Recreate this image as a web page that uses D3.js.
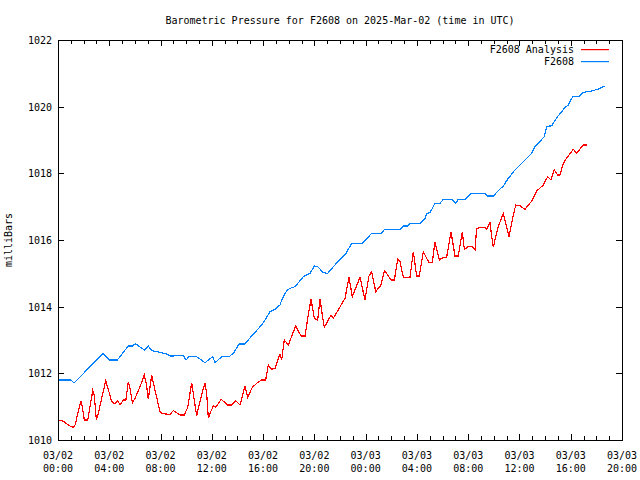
<!DOCTYPE html>
<html>
<head>
<meta charset="utf-8">
<script src="https://cdn.jsdelivr.net/npm/d3@7"></script>
<style>
  html, body { margin: 0; padding: 0; background: #fff; }
  svg { display: block; }
  text { font-family: "DejaVu Sans Mono", "Liberation Mono", monospace; font-size: 10px; fill: #000; }
</style>
</head>
<body>
<svg id="chart" width="640" height="480"></svg>
<script>
// ---- data (hours since 2025-03-02 00:00 UTC, pressure in mbar) ----
const analysisHours = [0,0.34,1.01,1.19,1.33,1.79,1.90,2.05,2.32,2.71,
  2.83,2.99,3.10,3.72,3.92,4.19,4.45,4.66,4.84,5.09,
  5.30,5.48,5.64,5.80,6.01,6.48,6.73,6.89,7.04,7.31,
  7.57,7.98,8.35,8.74,9.0,9.52,9.85,10.12,10.43,10.63,
  10.82,10.95,11.34,11.47,11.60,11.73,11.86,12.12,12.30,12.72,
  13.24,13.55,13.86,14.20,14.59,14.80,15.16,15.50,15.89,16.20,
  16.41,16.67,16.93,17.19,17.32,17.45,17.65,17.97,18.54,18.96,
  19.27,19.48,19.74,20.0,20.26,20.44,20.62,20.78,21.30,21.48,
  22.39,22.70,22.96,23.56,23.95,24.26,24.47,24.79,25.20,25.46,
  25.67,25.98,26.24,26.50,26.68,26.94,27.46,27.72,27.98,28.19,
  28.50,28.94,29.20,29.41,29.62,29.75,30.06,30.32,30.66,30.97,
  31.23,31.54,31.70,32.01,32.32,32.53,32.66,33.0,33.31,33.44,
  33.70,33.84,33.96,34.09,34.35,34.74,35.19,35.52,35.71,36.04,
  36.43,36.96,37.35,37.86,38.20,38.46,38.72,38.98,39.16,39.42,
  39.76,40.20,40.47,40.86,40.98,41.25];
const analysisValues = [1010.6,1010.58,1010.4,1010.38,1010.45,1011.17,1011.0,1010.6,1010.6,1011.48,
  1011.35,1010.6,1010.72,1011.78,1011.52,1011.15,1011.08,1011.18,1011.05,1011.2,
  1011.2,1011.75,1011.5,1011.12,1011.25,1011.68,1011.95,1011.7,1011.22,1011.95,
  1011.48,1010.82,1010.78,1010.77,1010.88,1010.75,1010.75,1010.98,1011.72,1011.2,
  1010.72,1010.95,1011.55,1011.7,1011.4,1010.65,1010.8,1011.02,1010.98,1011.22,
  1011.05,1011.05,1011.18,1011.05,1011.62,1011.28,1011.58,1011.7,1011.8,1011.8,
  1012.25,1012.12,1012.15,1012.45,1012.58,1012.4,1013.0,1012.85,1013.42,1013.12,
  1013.12,1013.65,1014.22,1013.65,1013.6,1014.22,1013.75,1013.38,1013.75,1013.65,
  1014.25,1014.88,1014.3,1014.88,1014.2,1014.92,1015.05,1014.45,1014.65,1015.08,
  1014.98,1014.8,1014.8,1015.42,1015.35,1014.88,1014.88,1015.65,1014.92,1014.92,
  1015.65,1015.32,1015.32,1015.95,1015.6,1015.4,1015.48,1015.48,1016.25,1015.52,
  1015.52,1016.25,1015.72,1015.8,1015.8,1015.7,1016.35,1016.38,1016.38,1016.32,
  1016.53,1016.1,1015.78,1016.0,1016.4,1016.8,1016.1,1016.75,1017.05,1017.03,
  1016.92,1017.17,1017.47,1017.65,1017.9,1017.8,1018.1,1017.95,1017.95,1018.3,
  1018.5,1018.72,1018.6,1018.8,1018.85,1018.85];

const stationHours = [0,1.01,1.25,3.53,3.98,4.63,5.48,5.80,6.03,6.73,
  7.04,7.31,7.82,8.48,8.74,9.78,9.99,10.22,10.82,11.47,
  12.07,12.25,12.77,13.34,13.68,14.12,14.59,15.06,15.89,16.15,
  16.54,16.93,17.32,17.45,17.84,18.10,18.49,19.14,19.66,20.0,
  20.26,20.70,21.04,21.48,22.47,22.91,23.74,24.47,25.25,25.46,
  25.90,26.68,26.94,27.28,27.46,28.24,28.63,28.76,29.02,29.41,
  29.80,30.06,30.71,31.03,31.23,31.75,32.22,33.31,33.52,33.96,
  34.48,34.74,35.13,35.65,36.04,36.43,36.96,37.21,37.94,38.13,
  38.52,38.91,39.30,39.55,39.81,40.15,40.72,40.98,41.64,42.15,
  42.67];
const stationValues = [1011.8,1011.8,1011.71,1012.6,1012.4,1012.4,1012.82,1012.82,1012.89,1012.7,
  1012.82,1012.68,1012.64,1012.58,1012.52,1012.53,1012.4,1012.5,1012.5,1012.32,
  1012.5,1012.32,1012.5,1012.5,1012.6,1012.88,1012.88,1013.1,1013.45,1013.6,
  1013.85,1013.92,1014.05,1014.2,1014.48,1014.55,1014.6,1014.9,1015.0,1015.22,
  1015.2,1015.02,1015.0,1015.2,1015.6,1015.9,1015.9,1016.2,1016.2,1016.32,
  1016.32,1016.32,1016.42,1016.42,1016.5,1016.5,1016.65,1016.8,1016.82,1017.1,
  1017.1,1017.22,1017.22,1017.1,1017.22,1017.22,1017.4,1017.4,1017.32,1017.32,
  1017.53,1017.62,1017.85,1018.1,1018.25,1018.4,1018.6,1018.8,1019.1,1019.4,
  1019.43,1019.67,1019.85,1019.98,1020.05,1020.3,1020.32,1020.43,1020.47,1020.53,
  1020.62];

const yTicks = [1010, 1012, 1014, 1016, 1018, 1020, 1022];
const seriesNames = ["F2608 Analysis", "F2608"];
const seriesColors = ["#ff0000", "#0080ff"];
const titleText = "Barometric Pressure for F2608 on 2025-Mar-02 (time in UTC)";
const yLabel = "milliBars";

// ---- layout ----
const L = 58, R = 622, T = 40, B = 440;
const t0 = Date.UTC(2025, 2, 2, 0);
const t1 = Date.UTC(2025, 2, 3, 20);
const toDate = h => new Date(t0 + h * 3600000);

const svg = d3.select("#chart");
const x = d3.scaleUtc().domain([new Date(t0), new Date(t1)]).range([L, R]);
const y = d3.scaleLinear().domain([1010, 1022]).range([B, T]);

// title
svg.append("text").attr("x", 340).attr("y", 24).attr("text-anchor", "middle").text(titleText);

// y label
svg.append("text").attr("transform", "translate(12,240) rotate(-90)")
  .attr("text-anchor", "middle").text(yLabel);

// ticks
const minorTicks = d3.utcHour.range(new Date(t0), new Date(t1 + 1));
const g = svg.append("g").attr("shape-rendering", "crispEdges");
minorTicks.forEach(d => {
  const xx = Math.round(x(d)) + 0.5;
  const major = d.getUTCHours() % 4 === 0;
  const len = major ? 6 : 4;
  g.append("line").attr("x1", xx).attr("x2", xx).attr("y1", B).attr("y2", B - len).attr("stroke", "#000");
  g.append("line").attr("x1", xx).attr("x2", xx).attr("y1", T).attr("y2", T + len).attr("stroke", "#000");
});
yTicks.forEach(v => {
  const yy = Math.round(y(v)) + 0.5;
  g.append("line").attr("x1", L).attr("x2", L + 6).attr("y1", yy).attr("y2", yy).attr("stroke", "#000");
  g.append("line").attr("x1", R - 6).attr("x2", R).attr("y1", yy).attr("y2", yy).attr("stroke", "#000");
  svg.append("text").attr("x", 52).attr("y", y(v) + 4).attr("text-anchor", "end").text(v);
});

// x labels
const fmtD = d3.utcFormat("%m/%d"), fmtT = d3.utcFormat("%H:%M");
d3.utcHour.every(4).range(new Date(t0), new Date(t1 + 1)).forEach(d => {
  const xx = x(d);
  svg.append("text").attr("x", xx).attr("y", 459).attr("text-anchor", "middle").text(fmtD(d));
  svg.append("text").attr("x", xx).attr("y", 472).attr("text-anchor", "middle").text(fmtT(d));
});

// lines
const line = d3.line().x(d => x(toDate(d[0]))).y(d => y(d[1]));
const aData = d3.zip(analysisHours, analysisValues);
const sData = d3.zip(stationHours, stationValues);
svg.append("path").datum(aData).attr("d", line).attr("fill", "none")
  .style("stroke", seriesColors[0]).attr("stroke-width", 1.2).attr("shape-rendering", "crispEdges");
svg.append("path").datum(sData).attr("d", line).attr("fill", "none")
  .style("stroke", seriesColors[1]).attr("stroke-width", 1.2).attr("shape-rendering", "crispEdges");

// frame
svg.append("rect").attr("x", L + 0.5).attr("y", T + 0.5).attr("width", R - L).attr("height", B - T)
  .attr("fill", "none").attr("stroke", "#000").attr("shape-rendering", "crispEdges");

// legend
seriesNames.forEach((name, i) => {
  const ly = 49 + i * 12;
  svg.append("text").attr("x", 574).attr("y", ly + 4).attr("text-anchor", "end").text(name);
  svg.append("rect").attr("x", 581).attr("y", ly).attr("width", 28).attr("height", 1.2)
    .style("fill", seriesColors[i]);
});
</script>
</body>
</html>
